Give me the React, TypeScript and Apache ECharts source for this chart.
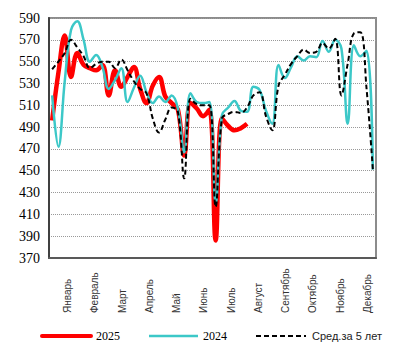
import React, { useEffect, useRef } from "react";
import * as echarts from "echarts";

const months = ["Январь", "Февраль", "Март", "Апрель", "Май", "Июнь", "Июль", "Август", "Сентябрь", "Октябрь", "Ноябрь", "Декабрь"];
const weeks = Array.from({ length: 52 }, (_, i) => String(i + 1));

const red2025 = [496, 540, 574, 536, 558, 547, 544, 542, 547, 519, 542, 527, 536, 545, 525, 512, 528, 536, 518, 512, 506, 464, 512, 507, 500, 506, 386, 498, 491, 487, 489, 493];
const cyan2024 = [519, 472, 532, 579, 587, 570, 550, 556, 545, 525, 533, 544, 513, 526, 537, 522, 512, 518, 513, 519, 507, 467, 521, 513, 512, 513, 420, 501, 508, 514, 505, 504, 527, 524, 505, 493, 547, 535, 545, 555, 551, 555, 554, 569, 559, 570, 562, 493, 565, 555, 560, 451];
const black5y = [543, 550, 558, 570, 563, 555, 544, 548, 550, 550, 544, 552, 542, 532, 525, 521, 498, 485, 497, 508, 504, 443, 516, 511, 510, 510, 417, 498, 502, 504, 503, 508, 519, 522, 500, 487, 528, 538, 548, 555, 561, 558, 559, 567, 562, 571, 519, 548, 576, 577, 525, 451];

const yTicks = { min: 370, max: 590, interval: 20 };

export default function App() {
  const ref = useRef<HTMLDivElement>(null);
  useEffect(() => {
    const chart = echarts.init(ref.current!, null, { renderer: "svg" });
    chart.setOption({
      animation: false,
      grid: { left: 49, right: 21, top: 18, bottom: 93, show: true, borderColor: "#8c8c8c", borderWidth: 2, backgroundColor: "transparent" },
      xAxis: [
        {
          type: "category",
          data: months,
          boundaryGap: true,
          axisLine: { show: true, lineStyle: { color: "#595959", width: 2 } },
          axisTick: { show: false },
          splitLine: { show: false },
          axisLabel: {
            rotate: 90,
            align: "left",
            verticalAlign: "top",
            margin: 55,
            fontSize: 10,
            fontFamily: "Liberation Sans",
            color: "#333",
            interval: 0,
          },
        },
        { type: "category", data: weeks, boundaryGap: true, show: false },
      ],
      yAxis: {
        type: "value",
        min: yTicks.min,
        max: yTicks.max,
        interval: yTicks.interval,
        axisLine: { show: true, lineStyle: { color: "#404040", width: 2 } },
        axisTick: { show: false },
        axisLabel: { fontFamily: "Liberation Serif", fontSize: 14, color: "#000", margin: 9 },
        splitLine: { show: true, lineStyle: { type: "dotted", color: "#999", width: 1 } },
      },
      series: [
        { name: "2025", type: "line", xAxisIndex: 1, data: red2025, smooth: 0.4, symbol: "none", lineStyle: { color: "#ff0000", width: 4.5 } },
        { name: "2024", type: "line", xAxisIndex: 1, data: cyan2024, smooth: 0.4, symbol: "none", lineStyle: { color: "#3cc8c8", width: 2.5 } },
        { name: "Сред.за 5 лет", type: "line", xAxisIndex: 1, data: black5y, smooth: 0.4, symbol: "none", lineStyle: { color: "#000", width: 2, type: [5, 3] } },
      ],
      graphic: [
        { type: "line", shape: { x1: 42, y1: 336, x2: 91, y2: 336 }, style: { stroke: "#ff0000", lineWidth: 4, lineCap: "round" } },
        { type: "text", x: 96, y: 336, style: { text: "2025", fontFamily: "Liberation Serif", fontSize: 12, fill: "#000", verticalAlign: "middle" } },
        { type: "line", shape: { x1: 149, y1: 336, x2: 198, y2: 336 }, style: { stroke: "#3cc8c8", lineWidth: 2.5 } },
        { type: "text", x: 203, y: 336, style: { text: "2024", fontFamily: "Liberation Serif", fontSize: 12, fill: "#000", verticalAlign: "middle" } },
        { type: "line", shape: { x1: 256, y1: 336, x2: 306, y2: 336 }, style: { stroke: "#000", lineWidth: 2, lineDash: [5, 3] } },
        { type: "text", x: 312, y: 336, style: { text: "Сред.за 5 лет", fontFamily: "Liberation Sans", fontSize: 11, fill: "#222", verticalAlign: "middle" } },
      ],
    });
    return () => chart.dispose();
  }, []);
  return <div ref={ref} style={{ width: 397, height: 351, position: "absolute", left: 0, top: 0 }} />;
}
